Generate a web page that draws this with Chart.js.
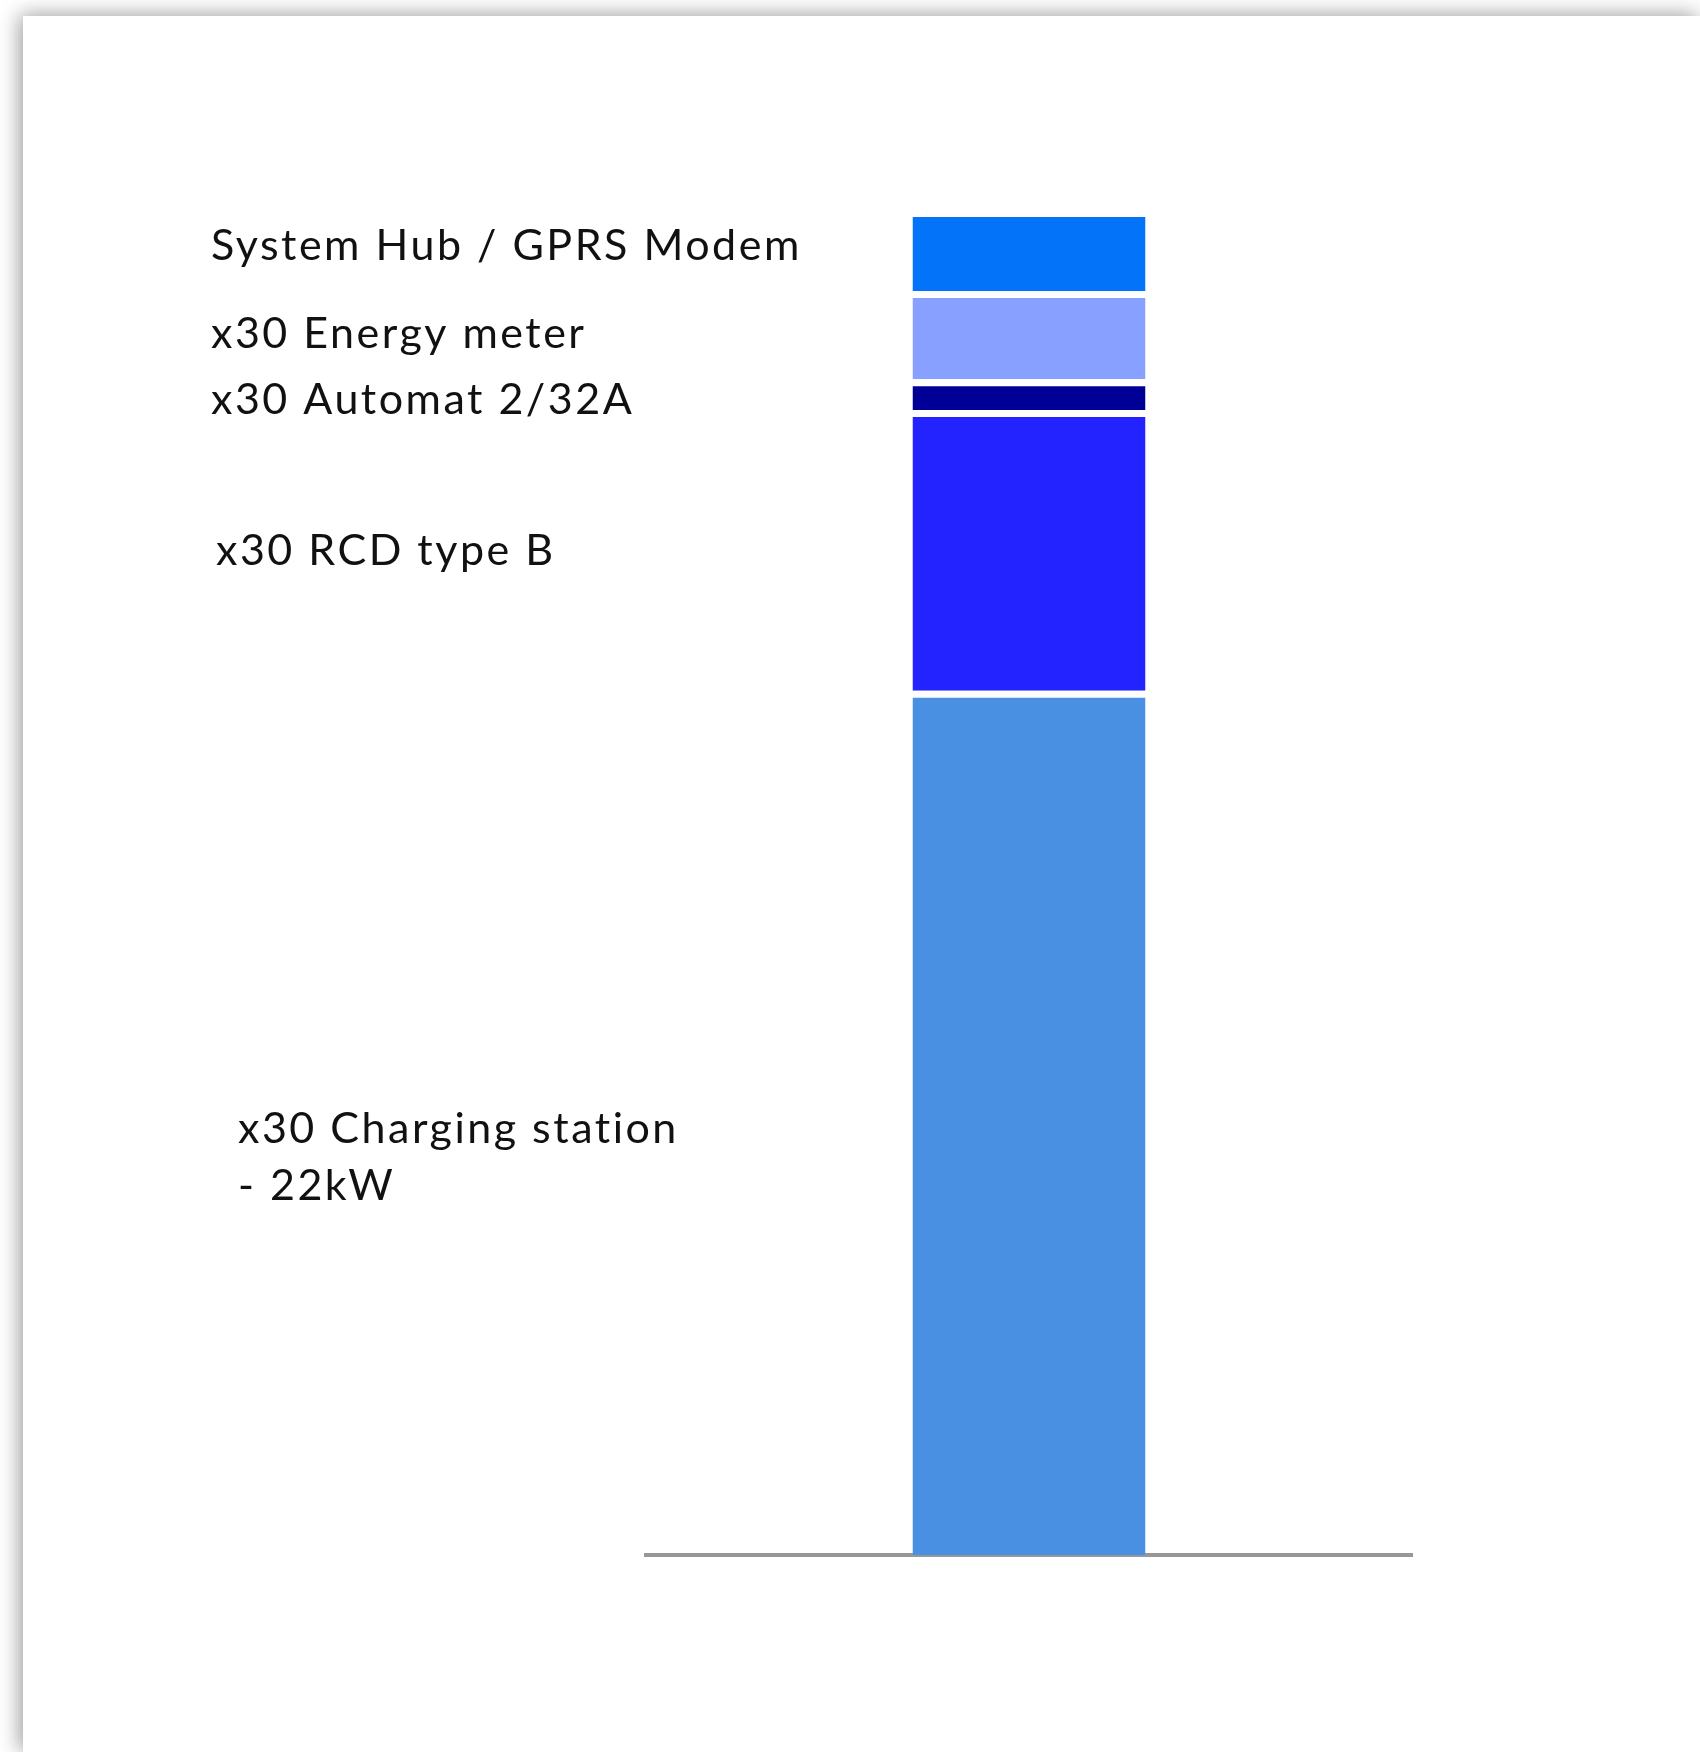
<!DOCTYPE html>
<html lang="en">
<head>
    <meta charset="UTF-8">
    <title>Cost breakdown</title>
    <script src="https://cdn.jsdelivr.net/npm/chart.js"></script>
    <style>
        html, body { margin: 0; padding: 0; background: #ffffff; overflow: hidden; }
        .card {
            position: absolute;
            left: 23px;
            top: 16px;
            width: 1677px;
            height: 1736px;
            background: #ffffff;
            box-shadow: -3px -1px 20px rgba(0, 0, 0, 0.4);
        }
        canvas { display: block; }
    </style>
</head>
<body>
    <div class="card">
        <canvas id="grafico" width="1677" height="1736"></canvas>
    </div>

    <script>
        // stacked from the bottom up
        const categorias = ['Total'];
        const componentes = [
            ['x30 Charging station', '- 22kW'],
            ['x30 RCD type B'],
            ['x30 Automat 2/32A'],
            ['x30 Energy meter'],
            ['System Hub / GPRS Modem']
        ];
        const valores = [25.7, 8.35, 0.92, 2.62, 2.41];
        const cores = ['#4A90E2', '#2323FF', '#000096', '#88A0FF', '#0373FA'];

        const total = valores.reduce((acc, v) => acc + v, 0);

        // text next to the bar, centred on each segment
        const rotulosPlugin = {
            id: 'rotulos',
            afterDatasetsDraw(chart, args, opts) {
                const ctx = chart.ctx;
                ctx.save();
                ctx.font = opts.font;
                ctx.fillStyle = opts.color;
                ctx.textBaseline = 'middle';
                ctx.textAlign = 'left';
                ctx.letterSpacing = opts.letterSpacing;
                chart.data.datasets.forEach((ds, i) => {
                    const el = chart.getDatasetMeta(i).data[0];
                    const { y, base } = el.getProps(['y', 'base'], true);
                    const topo = Math.min(y, base) + opts.gap;
                    const meio = (topo + Math.max(y, base)) / 2 + opts.dy[i];
                    componentes[i].forEach((linha, j) => {
                        ctx.fillText(linha, opts.x[i], meio + j * opts.lineHeight);
                    });
                });
                ctx.restore();
            }
        };

        const ctx = document.getElementById('grafico').getContext('2d');
        new Chart(ctx, {
            type: 'bar',
            data: {
                labels: categorias,
                datasets: valores.map((v, i) => ({
                    label: componentes[i].join(' '),
                    data: [v],
                    backgroundColor: cores[i],
                    borderColor: '#ffffff',
                    borderWidth: { top: 7, right: 0, bottom: 0, left: 0 },
                    borderSkipped: 'start',
                    inflateAmount: 0,
                    categoryPercentage: 1,
                    barPercentage: 0.3042
                }))
            },
            options: {
                responsive: false,
                devicePixelRatio: 1,
                animation: false,
                layout: {
                    padding: { left: 623, right: 288, top: 194, bottom: 197 }
                },
                plugins: {
                    legend: { display: false },
                    tooltip: { enabled: false },
                    rotulos: {
                        font: '43px Lato',
                        color: '#111111',
                        letterSpacing: '2.5px',
                        gap: 7,
                        lineHeight: 57,
                        x: [215, 193, 188, 188, 188],
                        dy: [3, -3, 2, -4, -8]
                    }
                },
                scales: {
                    x: {
                        stacked: true,
                        z: 1,
                        grid: { display: false, drawTicks: false },
                        ticks: { display: false },
                        border: { display: true, color: '#979797', width: 4 }
                    },
                    y: {
                        stacked: true,
                        display: false,
                        min: 0,
                        max: total
                    }
                }
            },
            plugins: [rotulosPlugin]
        });
    </script>
</body>
</html>
